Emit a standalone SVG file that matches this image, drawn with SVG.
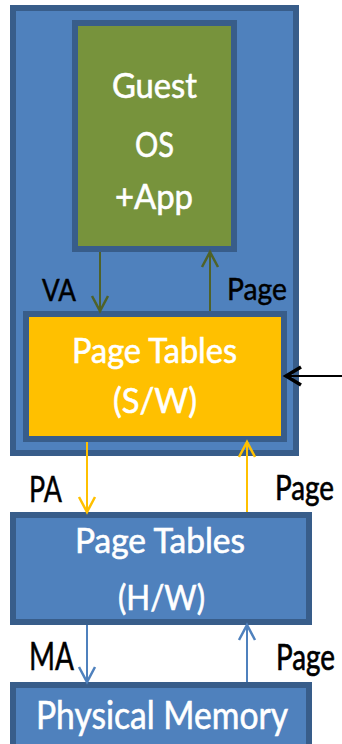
<svg xmlns="http://www.w3.org/2000/svg" width="342" height="744" viewBox="0 0 342 744">
  <style>
    .box { stroke: #385d8a; stroke-width: 6; }
    .blue { fill: #4f81bd; }
    .green { fill: #77933c; }
    .amber { fill: #ffc000; }
    .in { font-family: Lato, "Open Sans", sans-serif; fill: #ffffff; stroke: #ffffff; stroke-width: 0.6; text-anchor: middle; }
    .lbl { font-family: Lato, "Open Sans", sans-serif; fill: #000000; stroke: #000000; stroke-width: 0.5; }
    .wire { fill: none; stroke-width: 2; }
  </style>
  <defs>
    <marker id="head-green" markerUnits="userSpaceOnUse" markerWidth="20" markerHeight="20" viewBox="-17 -10 20 20" refX="0" refY="0" orient="auto">
      <path d="M-15,-8 L0,0 L-15,8" fill="none" stroke="#4f6228" stroke-width="2.5"/>
    </marker>
    <marker id="head-amber" markerUnits="userSpaceOnUse" markerWidth="20" markerHeight="20" viewBox="-17 -10 20 20" refX="0" refY="0" orient="auto">
      <path d="M-15,-8 L0,0 L-15,8" fill="none" stroke="#ffc000" stroke-width="2.5"/>
    </marker>
    <marker id="head-blue" markerUnits="userSpaceOnUse" markerWidth="20" markerHeight="20" viewBox="-17 -10 20 20" refX="0" refY="0" orient="auto">
      <path d="M-15,-8 L0,0 L-15,8" fill="none" stroke="#4f81bd" stroke-width="2.5"/>
    </marker>
    <marker id="head-black" markerUnits="userSpaceOnUse" markerWidth="22" markerHeight="22" viewBox="-18 -11 22 22" refX="0" refY="0" orient="auto">
      <path d="M-15,-9 L0,0 L-15,9" fill="none" stroke="#000000" stroke-width="3.5"/>
    </marker>
  </defs>

  <!-- virtual machine container -->
  <g id="vm">
    <rect class="box blue" x="13" y="8" width="283" height="445"/>
  </g>

  <g id="guest-os">
    <rect class="box green" x="75" y="23" width="159" height="226"/>
    <text class="in" x="154.5" y="98" font-size="35" textLength="85" lengthAdjust="spacingAndGlyphs">Guest</text>
    <text class="in" x="154.5" y="157" font-size="35" textLength="39" lengthAdjust="spacingAndGlyphs">OS</text>
    <text class="in" x="154" y="209" font-size="35" textLength="78" lengthAdjust="spacingAndGlyphs">+App</text>
  </g>

  <g id="sw-page-tables">
    <rect class="box amber" x="26" y="314" width="258" height="125"/>
    <text class="in" x="154.5" y="363" font-size="35" textLength="165" lengthAdjust="spacingAndGlyphs">Page Tables</text>
    <text class="in" x="155" y="413" font-size="35" textLength="84" lengthAdjust="spacingAndGlyphs">(S/W)</text>
  </g>

  <g id="hw-page-tables">
    <rect class="box blue" x="13" y="515" width="296" height="107"/>
    <text class="in" x="160" y="553" font-size="34" textLength="170" lengthAdjust="spacingAndGlyphs">Page Tables</text>
    <text class="in" x="161.5" y="610" font-size="34" textLength="87" lengthAdjust="spacingAndGlyphs">(H/W)</text>
  </g>

  <g id="physical-memory">
    <rect class="box blue" x="13" y="685" width="296" height="62"/>
    <text class="in" x="162" y="729" font-size="39" textLength="252" lengthAdjust="spacingAndGlyphs">Physical Memory</text>
  </g>

  <g id="connectors">
    <line class="wire" x1="100" y1="252" x2="100" y2="311" stroke="#4f6228" marker-end="url(#head-green)"/>
    <line class="wire" x1="210" y1="311" x2="210" y2="252" stroke="#4f6228" marker-end="url(#head-green)"/>
    <line class="wire" x1="87" y1="442" x2="87" y2="512" stroke="#ffc000" marker-end="url(#head-amber)"/>
    <line class="wire" x1="247" y1="512" x2="247" y2="442" stroke="#ffc000" marker-end="url(#head-amber)"/>
    <line class="wire" x1="87" y1="625" x2="87" y2="682" stroke="#4f81bd" marker-end="url(#head-blue)"/>
    <line class="wire" x1="247" y1="682" x2="247" y2="625" stroke="#4f81bd" marker-end="url(#head-blue)"/>
    <line class="wire" x1="342" y1="376" x2="286" y2="376" stroke="#000000" stroke-width="3" marker-end="url(#head-black)"/>
  </g>

  <g id="labels">
    <text class="lbl" x="42" y="301" font-size="30" textLength="34" lengthAdjust="spacingAndGlyphs">VA</text>
    <text class="lbl" x="227" y="300" font-size="31" textLength="60" lengthAdjust="spacingAndGlyphs">Page</text>
    <text class="lbl" x="29" y="502" font-size="36" textLength="33" lengthAdjust="spacingAndGlyphs">PA</text>
    <!-- right-hand labels: stretched vertically so their width stays inside the canvas -->
    <text class="lbl" transform="translate(275 500) scale(1 1.27)" x="0" y="0" font-size="28" textLength="59" lengthAdjust="spacingAndGlyphs">Page</text>
    <text class="lbl" x="29" y="670" font-size="38" textLength="45" lengthAdjust="spacingAndGlyphs">MA</text>
    <text class="lbl" transform="translate(276 670) scale(1 1.33)" x="0" y="0" font-size="28" textLength="59" lengthAdjust="spacingAndGlyphs">Page</text>
  </g>
</svg>
